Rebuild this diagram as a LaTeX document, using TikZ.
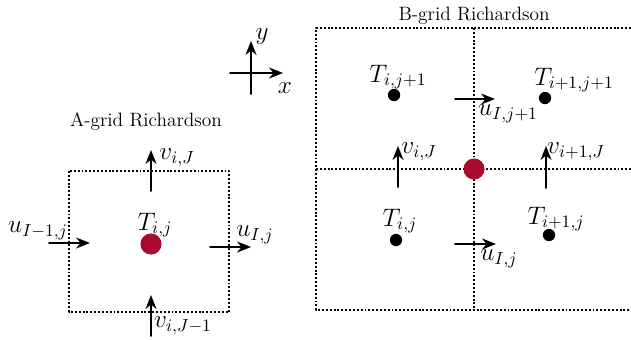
\documentclass[tikz,border=0pt]{standalone}
\usepackage{amsmath}
\usetikzlibrary{arrows.meta,calc}
\definecolor{gridred}{RGB}{170,10,45}

\begin{document}
\begin{tikzpicture}[
    x=0.02cm, y=-0.02cm,
    line cap=round,
    line join=round,
    cellline/.style={line width=1.6pt, line cap=butt, dash pattern=on 1.1pt off 1.1pt},
    vel/.style={-{Stealth[length=2.8mm, width=2.2mm]}, line width=1.1pt},
    axisarrow/.style={-{Stealth[length=2.8mm, width=2.2mm]}, line width=1.1pt},
    tdot/.style={circle, fill=black, inner sep=0pt, minimum size=7pt},
    rdot/.style={circle, fill=gridred, inner sep=0pt, minimum size=12pt},
    lab/.style={font=\Large, inner sep=0pt},
    title/.style={font=\fontsize{11}{13}\selectfont}
  ]

\useasboundingbox (0,0) rectangle (631,339);

% ============================================================
% AXES
% ============================================================
\coordinate (xa) at (230,73);
\coordinate (xb) at (283,73);
\coordinate (ya) at (251,94);
\coordinate (yb) at (251,41);
\draw[axisarrow] (xa) -- (xb);
\draw[axisarrow] (ya) -- (yb);
\node[lab] (xlab) at (285,88) {$x$};
\node[lab] (ylab) at (262,37) {$y$};

% ============================================================
% LEFT: A-grid
% ============================================================
\node[title] (atitle) at (146,122) {A-grid Richardson};

\draw[cellline] (69,171) rectangle (229,312);

\node[rdot] (Tij) at (151,244) {};
\node[lab] (Tijl) at (155,225) {$T_{i,j}$};

% zonal velocities
\coordinate (uw0) at (49,243);
\coordinate (uw1) at (90,243);
\draw[vel] (uw0) -- (uw1);
\node[lab] (uwl) at (38,231) {$u_{I-1,j}$};

\coordinate (ue0) at (210,247);
\coordinate (ue1) at (251,247);
\draw[vel] (ue0) -- (ue1);
\node[lab] (uel) at (255,235) {$u_{I,j}$};

% meridional velocities
\coordinate (vn0) at (151,191);
\coordinate (vn1) at (151,150);
\draw[vel] (vn0) -- (vn1);
\node[lab] (vnl) at (177,158) {$v_{i,J}$};

\coordinate (vs0) at (151,336);
\coordinate (vs1) at (151,295);
\draw[vel] (vs0) -- (vs1);
\node[lab] (vsl) at (183,326) {$v_{i,J-1}$};

% ============================================================
% RIGHT: B-grid
% ============================================================
\node[title] (btitle) at (474,16) {B-grid Richardson};

\draw[cellline] (631,28) -- (316,28) -- (316,310) -- (631,310);
\draw[cellline] (474,28) -- (474,310);
\draw[cellline] (316,169) -- (631,169);

% temperature points
\node[tdot] (Ta) at (394,95) {};
\node[lab] (Tal) at (398,77) {$T_{i,j+1}$};
\node[tdot] (Tb) at (545,98) {};
\node[lab] (Tbl) at (574,80) {$T_{i+1,j+1}$};
\node[tdot] (Tc) at (396,240) {};
\node[lab] (Tcl) at (400,221) {$T_{i,j}$};
\node[tdot] (Td) at (549,235) {};
\node[lab] (Tdl) at (556,219) {$T_{i+1,j}$};

% zonal velocities
\coordinate (ut0) at (455,99);
\coordinate (ut1) at (495,99);
\draw[vel] (ut0) -- (ut1);
\node[lab] (utl) at (508,114) {$u_{I,j+1}$};

\coordinate (ub0) at (455,244);
\coordinate (ub1) at (496,244);
\draw[vel] (ub0) -- (ub1);
\node[lab] (ubl) at (499,259) {$u_{I,j}$};

% meridional velocities
\coordinate (vl0) at (398,187);
\coordinate (vl1) at (398,146);
\draw[vel] (vl0) -- (vl1);
\node[lab] (vll) at (419,152) {$v_{i,J}$};

\coordinate (vr0) at (546,188);
\coordinate (vr1) at (546,146);
\draw[vel] (vr0) -- (vr1);
\node[lab] (vrl) at (576,152) {$v_{i+1,J}$};

% corner point
\node[rdot] (Rc) at (474,169) {};

\end{tikzpicture}
\end{document}
